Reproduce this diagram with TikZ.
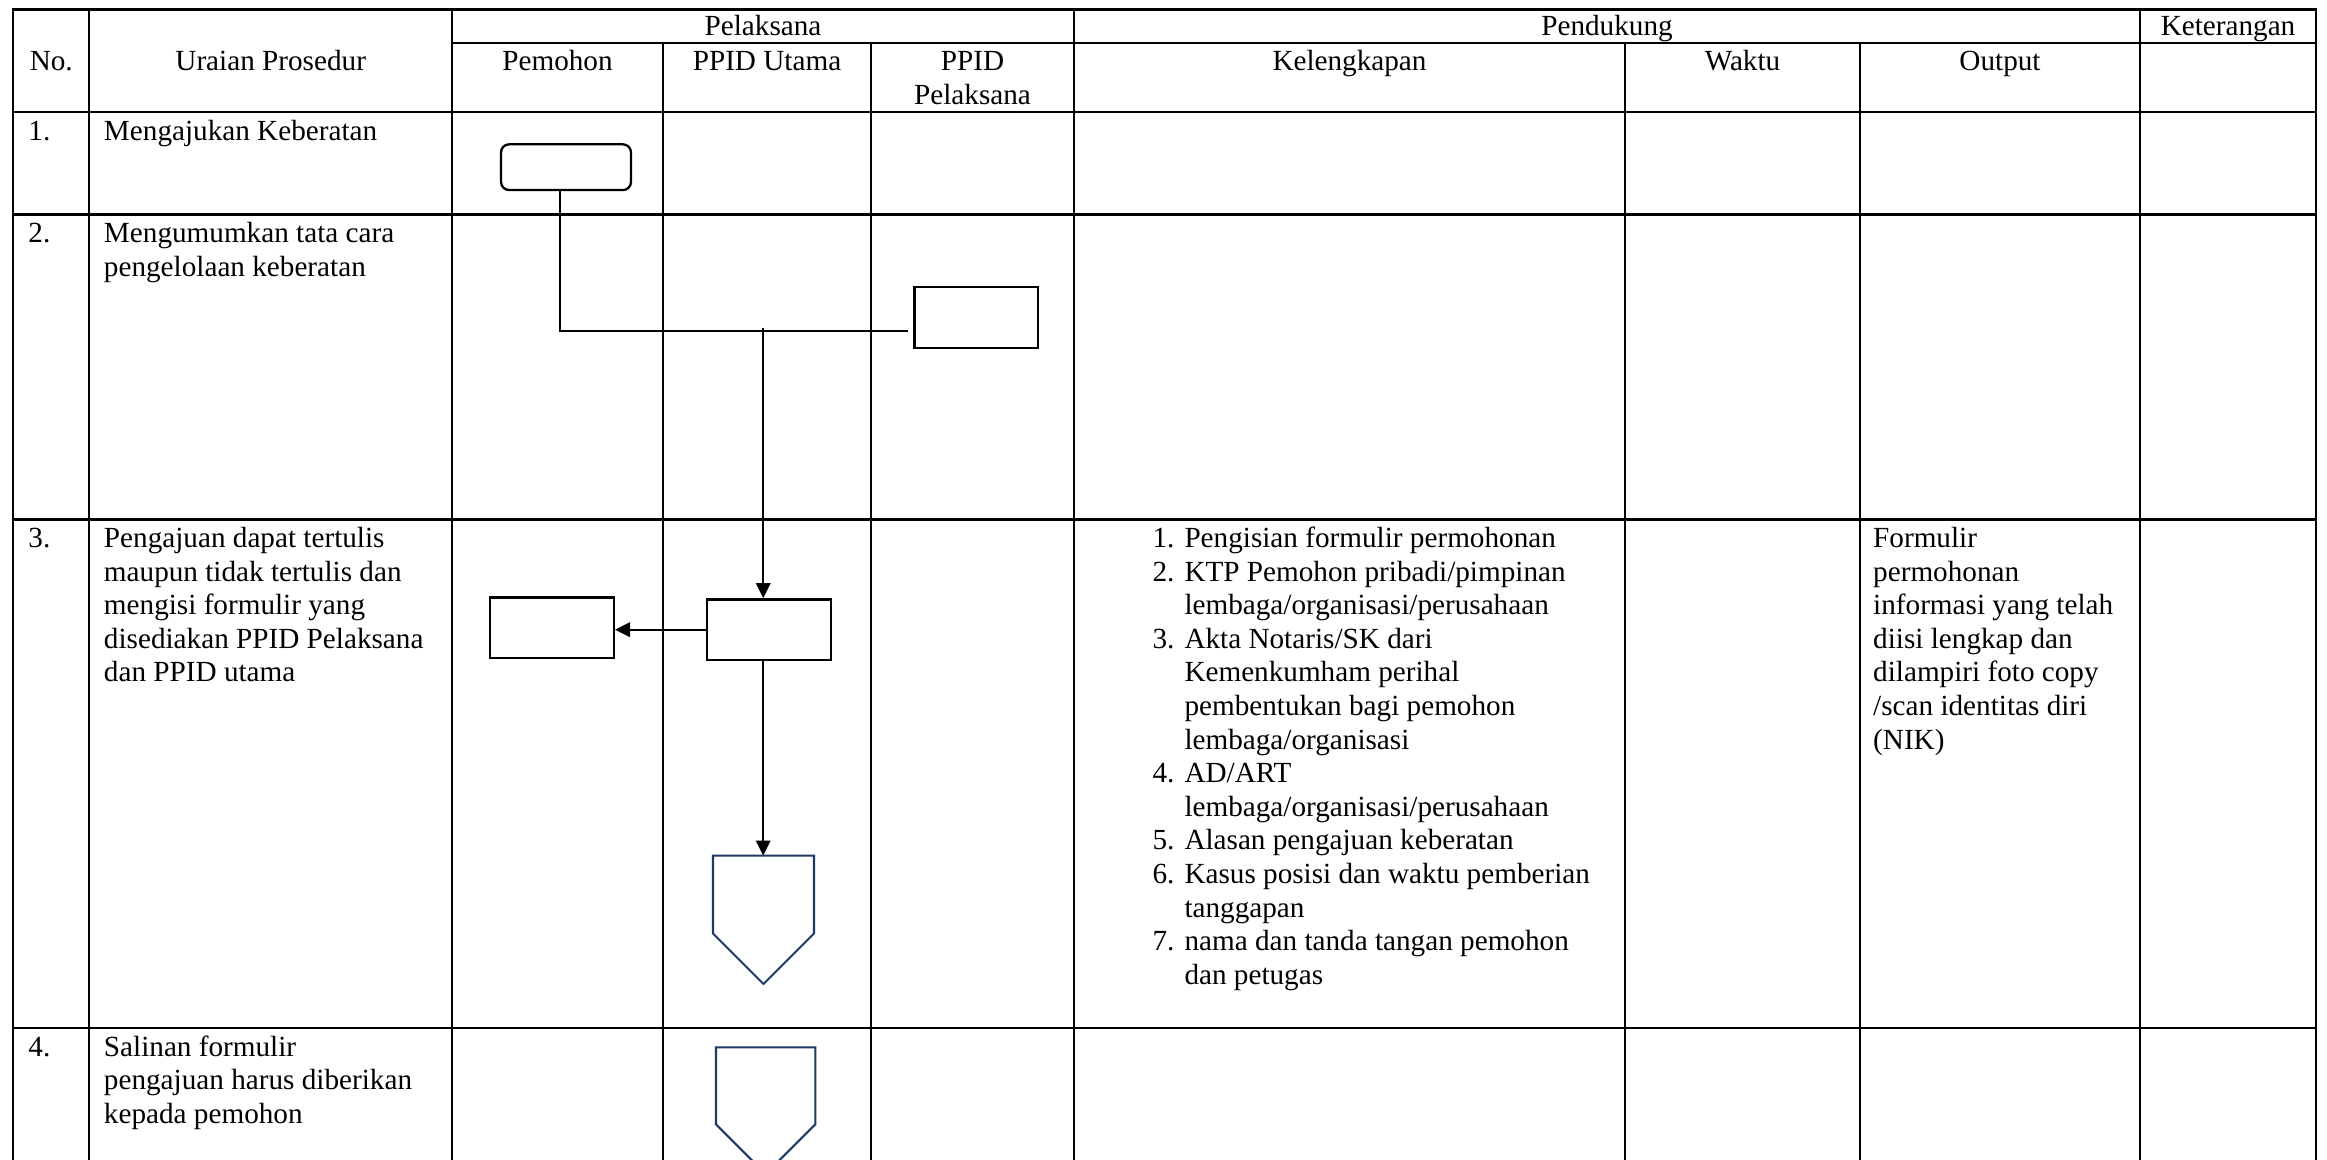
\documentclass[tikz,border=0pt]{standalone}
\usepackage{fontspec}
\setmainfont{Liberation Serif}
\usetikzlibrary{arrows.meta}
\definecolor{navy}{RGB}{31,56,100}
\begin{document}
\begin{tikzpicture}[x=0.411pt,y=-0.411pt,
  grid/.style={line width=0.85pt,line cap=rect},
  txt/.style={inner sep=0pt,anchor=base west,font=\fontsize{12pt}{13.8pt}\selectfont},
  ctxt/.style={txt,anchor=base},
  boxn/.style={draw,line width=0.95pt,inner sep=0pt},
  conn/.style={line width=0.7pt},
  arr/.style={conn,-{Triangle[length=6.2pt,width=6pt]}},
  offpage/.style={draw=navy,line width=0.85pt,line join=miter}
]
\clip (0,0) rectangle (2327,1160);
\fill[white] (0,0) rectangle (2327,1160);

% ---- table grid ----
\draw[grid] (13.3,9.5) -- (2316,9.5);
\draw[grid] (452,43.3) -- (2316,43.3);
\foreach \y in {112.3,214.5,519.5,1028} \draw[grid] (13.3,\y) -- (2316,\y);
\foreach \x in {13.3,89.3,452,1074,2140,2316} \draw[grid] (\x,9.5) -- (\x,1170);
\foreach \x in {663,871,1625,1860} \draw[grid] (\x,43.3) -- (\x,1170);

% ---- header ----
\node[ctxt] (hPel) at (763,36) {Pelaksana};
\node[ctxt] (hPen) at (1607,36) {Pendukung};
\node[ctxt] (hKet) at (2228,36) {Keterangan};
\node[ctxt] (hNo) at (51.3,71) {No.};
\node[ctxt] (hUr) at (270.7,71) {Uraian Prosedur};
\node[ctxt] (hPm) at (557.5,71) {Pemohon};
\node[ctxt] (hPU) at (767,71) {PPID Utama};
\node[ctxt] (hPP1) at (972.5,71) {PPID};
\node[ctxt] (hPP2) at (972.5,104.6) {Pelaksana};
\node[ctxt] (hKl) at (1349.5,71) {Kelengkapan};
\node[ctxt] (hWk) at (1742.5,71) {Waktu};
\node[ctxt] (hOu) at (2000,71) {Output};

% ---- row numbers ----
\node[txt] (n1) at (28,141) {1.};
\node[txt] (n2) at (28,242.5) {2.};
\node[txt] (n3) at (28,547.5) {3.};
\node[txt] (n4) at (28,1056) {4.};

% ---- procedure texts ----
\node[txt] (r1a) at (103.5,141) {Mengajukan Keberatan};
\node[txt] (r2a) at (103.5,242.5) {Mengumumkan tata cara};
\node[txt] (r2b) at (103.5,276.1) {pengelolaan keberatan};
\foreach \t [count=\i from 0] in {Pengajuan dapat tertulis, maupun tidak tertulis dan, mengisi formulir yang, disediakan PPID Pelaksana, dan PPID utama}
  \node[txt] (r3l\i) at (103.5,{547.5+33.6*\i}) {\t};
\foreach \t [count=\i from 0] in {Salinan formulir, pengajuan harus diberikan, kepada pemohon}
  \node[txt] (r4l\i) at (103.5,{1056+33.6*\i}) {\t};

% ---- kelengkapan ----
\foreach \t [count=\i from 0] in {Pengisian formulir permohonan, KTP Pemohon pribadi/pimpinan, lembaga/organisasi/perusahaan, Akta Notaris/SK dari, Kemenkumham perihal, pembentukan bagi pemohon, lembaga/organisasi, AD/ART, lembaga/organisasi/perusahaan, Alasan pengajuan keberatan, Kasus posisi dan waktu pemberian, tanggapan, nama dan tanda tangan pemohon, dan petugas}
  \node[txt] (kl\i) at (1184,{547.5+33.6*\i}) {\t};
\foreach \n/\l in {1/0,2/1,3/3,4/7,5/9,6/10,7/12}
  \node[txt] (kn\n) at (1152,{547.5+33.6*\l}) {\n.};

% ---- output ----
\foreach \t [count=\i from 0] in {Formulir, permohonan, informasi yang telah, diisi lengkap dan, dilampiri foto copy, /scan identitas diri, {(NIK)}}
  \node[txt] (ou\i) at (1872.7,{547.5+33.6*\i}) {\t};

% ---- flow shapes ----
\node[boxn,rounded corners=3.3pt,minimum width=53.4pt,minimum height=18.8pt] (R1) at (566,167.2) {};
\node[boxn,minimum width=50.8pt,minimum height=24.8pt] (B2) at (976.2,317.5) {};
\node[boxn,minimum width=51.0pt,minimum height=24.9pt] (B3u) at (769.2,629.65) {};
\node[boxn,minimum width=51.0pt,minimum height=24.7pt] (B3p) at (551.75,627.7) {};

\draw[offpage] (713,855.6) -- (814,855.6) -- (814,933.5) -- (763.5,984) -- (713,933.5) -- cycle;
\coordinate (P3) at (763.5,855.6);
\draw[offpage] (716,1047.3) -- (815.3,1047.3) -- (815.3,1124.3) -- (765.65,1174) -- (716,1124.3) -- cycle;
\coordinate (P4) at (765.65,1047.3);

% ---- connectors ----
\coordinate (j1) at (560,331);
\draw[conn,shorten >=2pt] (R1.south -| j1) -- (j1) -- (B2.west |- j1);
\coordinate (j2) at (763.2,328.3);
\draw[arr] (j2) -- (j2 |- B3u.north);
\draw[arr] (B3u.west) -- (B3p.east |- B3u.west);
\draw[arr] (j2 |- B3u.south) -- (j2 |- P3);
\end{tikzpicture}
\end{document}
